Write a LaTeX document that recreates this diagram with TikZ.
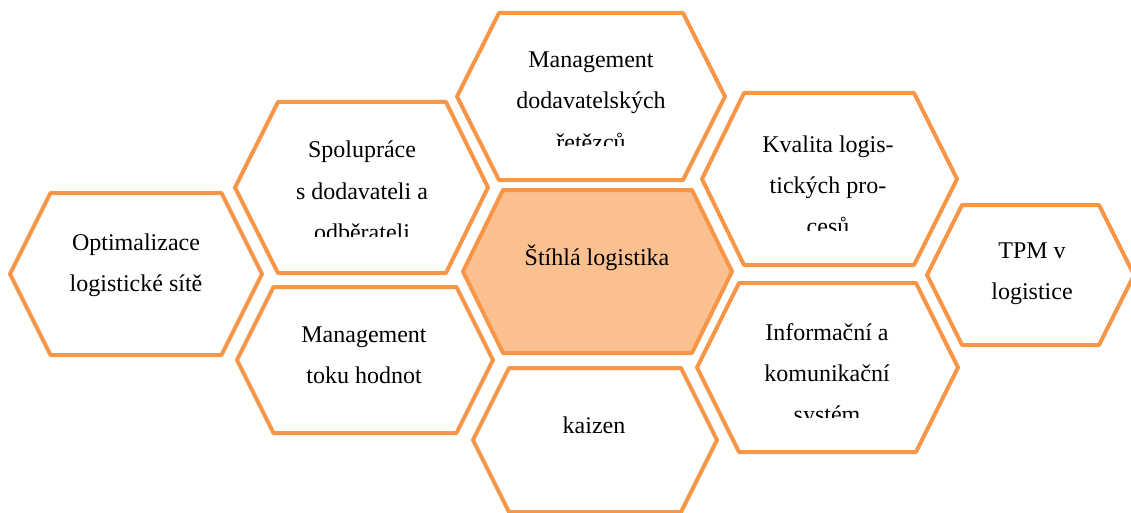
\documentclass[tikz,border=0pt]{standalone}
\usepackage{fontspec}
\setmainfont{Liberation Serif}
\definecolor{hexline}{HTML}{F79646}
\definecolor{hexfill}{HTML}{FAC090}

\begin{document}
\begin{tikzpicture}[x=1pt,y=-1pt,
  cell/.style={draw=hexline, line width=4pt, line join=round, fill=white},
  lbl/.style={align=center, font=\fontsize{24}{41}\selectfont, inner sep=0pt, anchor=base}]
\useasboundingbox (0,0) rectangle (1131,513);
% cells
\draw[cell] (10,274)--(50.5,193)--(221.5,193)--(262,274)--(221.5,355)--(50.5,355)--cycle;
\draw[cell] (235,187.5)--(278,102)--(446,102)--(488,187.5)--(446,273)--(278,273)--cycle;
\draw[cell] (457,96.5)--(499,13)--(683,13)--(725,96.5)--(683,180)--(499,180)--cycle;
\draw[cell, fill=hexfill] (463,271.5)--(503,190)--(692,190)--(732,271.5)--(692,353)--(503,353)--cycle;
\draw[cell] (702,179)--(744,93)--(914,93)--(957,179)--(914,265)--(744,265)--cycle;
\draw[cell] (927,275)--(962,205)--(1099,205)--(1134,275)--(1099,345)--(962,345)--cycle;
\draw[cell] (237,360)--(273.5,287)--(456.5,287)--(493,360)--(456.5,433)--(273.5,433)--cycle;
\draw[cell] (473,440)--(509,368)--(681,368)--(717,440)--(681,512)--(509,512)--cycle;
\draw[cell] (697,367.5)--(739,283)--(916,283)--(958,367.5)--(916,452)--(739,452)--cycle;
% texts (base = last line)
\node[lbl] (opt) at (136,291) {Optimalizace\\logistické sítě};
\begin{scope}
\clip (235,102) rectangle (488,236);
\node[lbl] (spol) at (362,240) {Spolupráce\\s dodavateli a\\odběrateli};
\end{scope}
\begin{scope}
\clip (457,13) rectangle (725,146);
\node[lbl] (scm) at (591,150) {Management\\dodavatelských\\řetězců};
\end{scope}
\node[lbl] (lean) at (597,265) {Štíhlá logistika};
\begin{scope}
\clip (702,93) rectangle (957,230);
\node[lbl] (kval) at (828,234) {Kvalita logis-\\tických pro-\\cesů};
\end{scope}
\node[lbl] (tpm) at (1032,299) {TPM v\\logistice};
\node[lbl] (vsm) at (364,383) {Management\\toku hodnot};
\node[lbl] (kaiz) at (594,433) {kaizen};
\begin{scope}
\clip (697,283) rectangle (958,417);
\node[lbl] (ikt) at (827,422) {Informační a\\komunikační\\systém};
\end{scope}
\end{tikzpicture}
\end{document}
